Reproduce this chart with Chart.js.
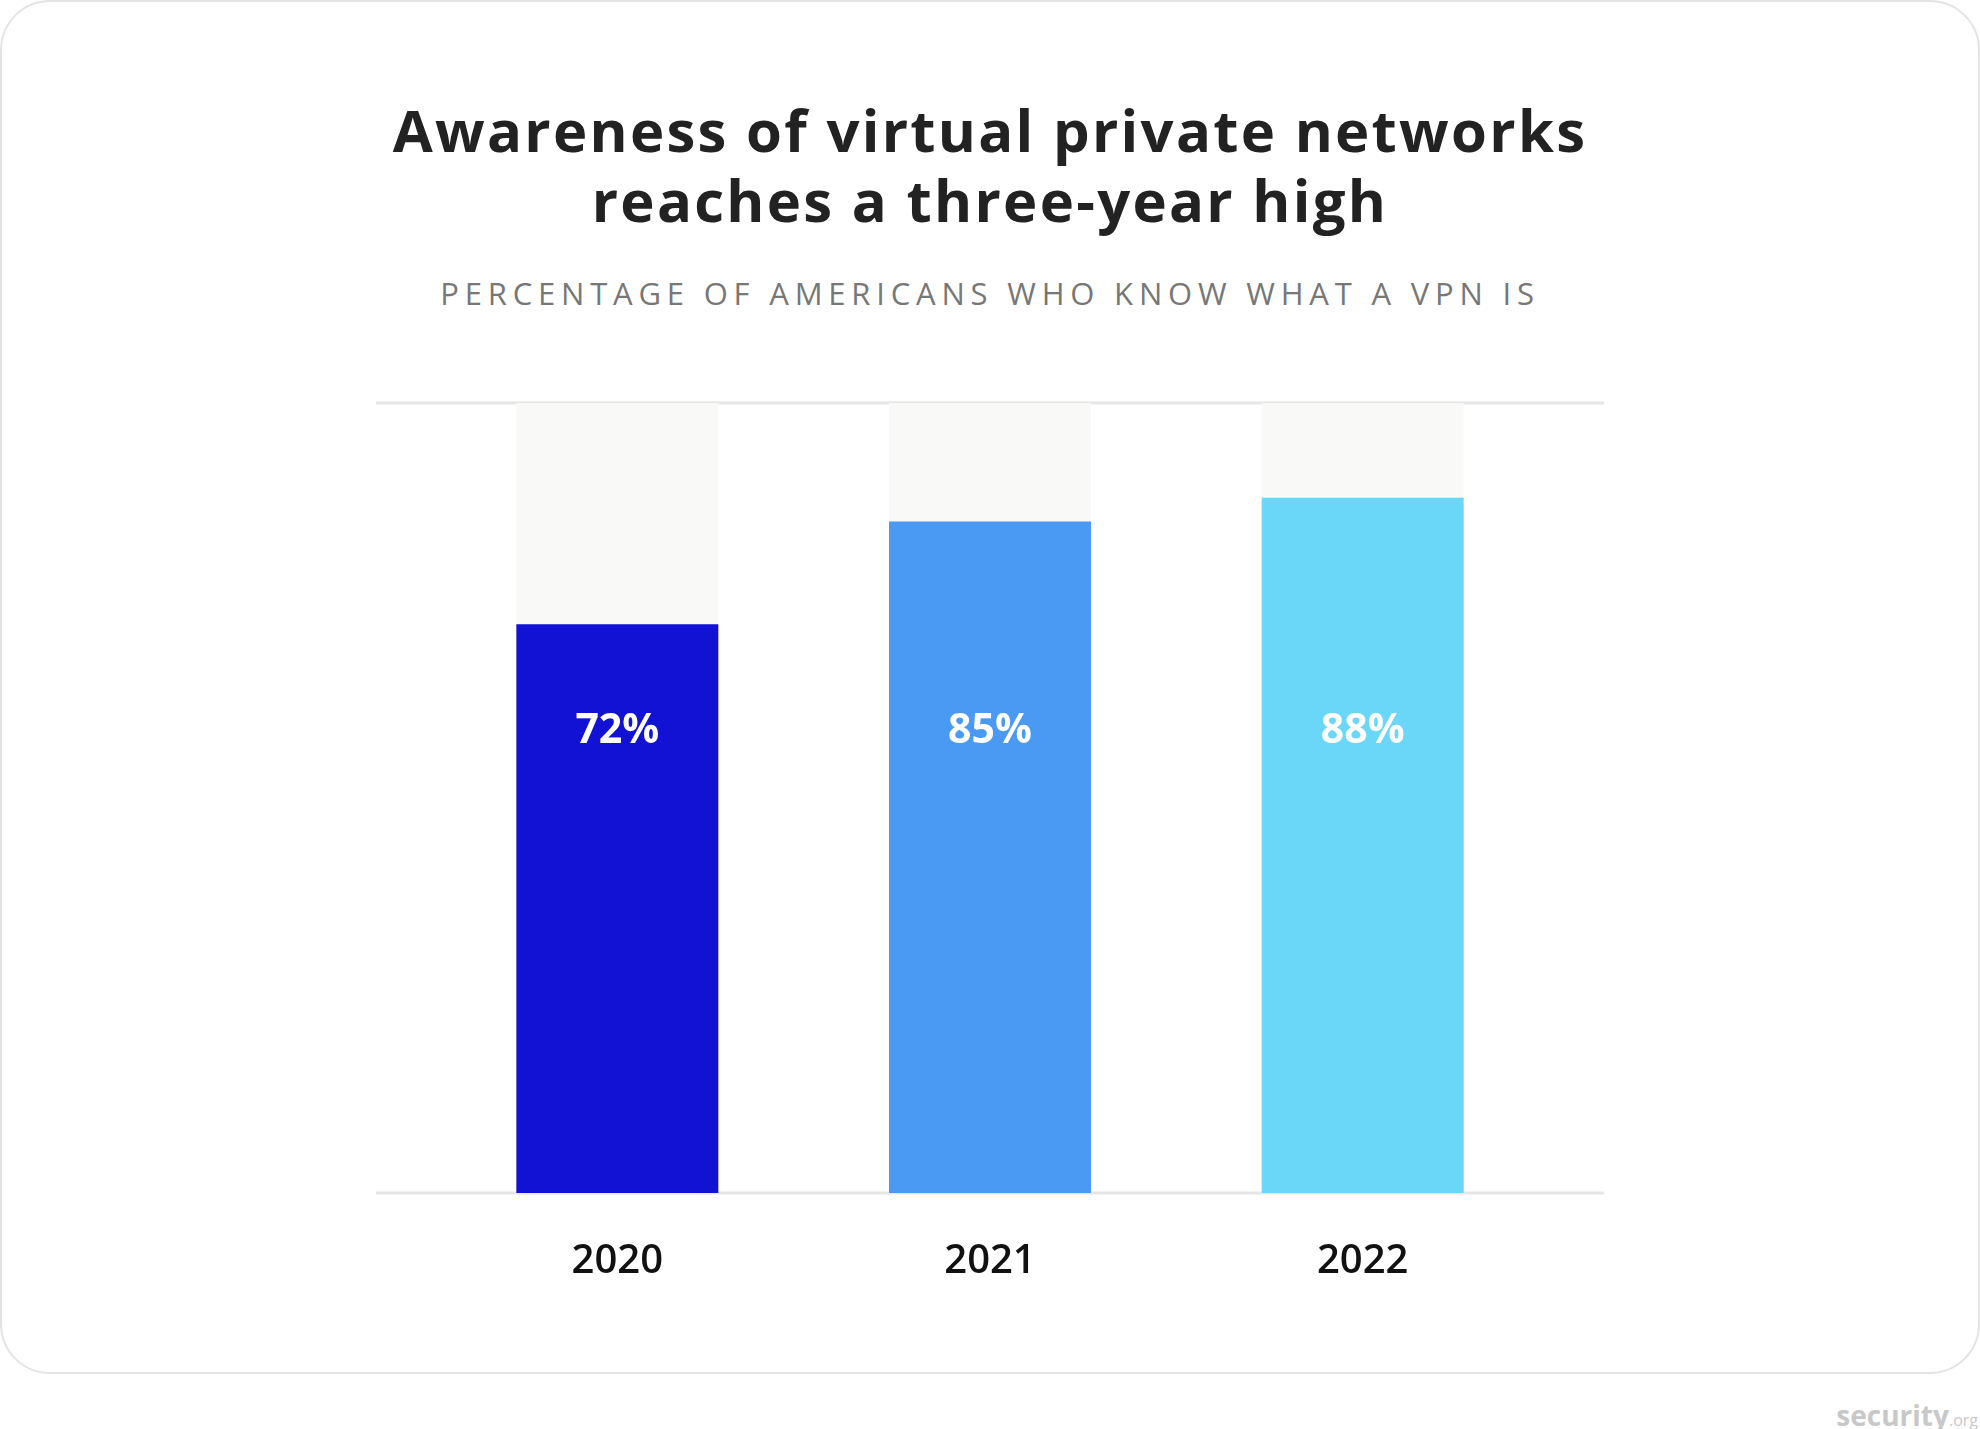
<!DOCTYPE html>
<html><head><meta charset="utf-8">
<script src="https://cdn.jsdelivr.net/npm/chart.js@4"></script>
<style>
html,body{margin:0;padding:0;background:#fff;width:1980px;height:1429px;overflow:hidden;font-family:"Open Sans",sans-serif}
#card{position:absolute;left:0;top:0;width:1976px;height:1370px;border:2px solid #e4e4e4;border-radius:50px;background:#fff}
#title{position:absolute;left:0;width:1980px;top:95px;text-align:center;font-weight:700;font-size:58px;line-height:70px;color:#222;letter-spacing:2.3px}
#sub{position:absolute;left:0;width:1980px;top:272px;text-align:center;font-size:31px;color:#777;letter-spacing:5.8px}
#logo{position:absolute;right:2px;top:1396px;font-size:28px;font-weight:700;color:#c8c8c8}
#logo small{font-size:16px;font-weight:400}
canvas{position:absolute;left:0;top:0}
</style></head><body>
<div id="card"></div>
<div id="title">Awareness of virtual private networks<br>reaches a three-year high</div>
<div id="sub">PERCENTAGE OF AMERICANS WHO KNOW WHAT A VPN IS</div>
<div id="logo">security<small>.org</small></div>
<canvas id="c" width="1980" height="1429"></canvas>
<script>
const categories=["2020","2021","2022"];
const values=[72,85,88];
const maxValues=[100,100,100];
const labels=["72%","85%","88%"];
const colors=["#1212d4","#4a9af3","#6ad7f9"];
const lines={id:'lines',beforeDatasetsDraw(ch){const c=ch.ctx,y=ch.scales.y;c.save();c.strokeStyle='#e6e6e6';c.lineWidth=3;
[100,0].forEach(v=>{const p=y.getPixelForValue(v);c.beginPath();c.moveTo(376,p);c.lineTo(1604,p);c.stroke();});c.restore();}};
const lbl={id:'lbl',afterDatasetsDraw(ch){const c=ch.ctx,y=ch.scales.y,m=ch.getDatasetMeta(1);c.save();c.fillStyle='#fff';c.font='bold 41px "Open Sans"';c.textAlign='center';c.textBaseline='middle';
m.data.forEach((b,i)=>c.fillText(labels[i],b.x,y.getPixelForValue(58.5)));c.restore();}};
new Chart(document.getElementById('c'),{type:'bar',
data:{labels:categories,datasets:[
{data:maxValues,backgroundColor:'#f9f9f8',grouped:false,order:2,barPercentage:0.542,categoryPercentage:1},
{data:values,backgroundColor:colors,grouped:false,order:1,barPercentage:0.542,categoryPercentage:1}]},
options:{responsive:false,animation:false,events:[],
layout:{padding:{left:431,right:431,top:403,bottom:0}},
plugins:{legend:{display:false},tooltip:{enabled:false}},
scales:{y:{display:false,min:0,max:100},
x:{grid:{display:false},border:{display:false},afterFit(s){s.height=236;},
ticks:{padding:37,color:'#111',font:{family:'"Open Sans"',size:40,weight:'600'}}}}},
plugins:[lines,lbl]});
</script></body></html>
